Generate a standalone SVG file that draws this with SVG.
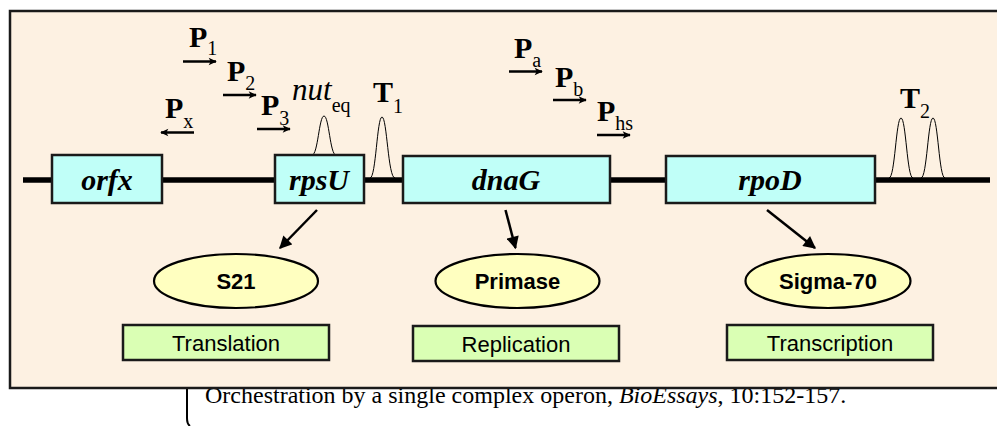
<svg xmlns="http://www.w3.org/2000/svg" width="997" height="426" viewBox="0 0 997 426">
<defs>
<marker id="ah" viewBox="0 0 10 10" refX="9" refY="5" markerWidth="5.5" markerHeight="5" orient="auto" markerUnits="strokeWidth">
<path d="M0,0 L10,5 L0,10 z" fill="#000"/>
</marker>
<marker id="ph" viewBox="0 0 10 10" refX="9" refY="5" markerWidth="5" markerHeight="3.4" orient="auto" markerUnits="strokeWidth">
<path d="M0,0.5 L10,5 L0,9.5 L2.5,5 z" fill="#000"/>
</marker>
<style>
.gene{fill:#C0FFF8;stroke:#1a1a1a;stroke-width:2.5}
.gl{font-family:"Liberation Serif",serif;font-weight:bold;font-style:italic;font-size:30px;text-anchor:middle;fill:#000}
.prot{fill:#FFFFC0;stroke:#000;stroke-width:2.2}
.pl{font-family:"Liberation Sans",Arial,sans-serif;font-weight:bold;font-size:22px;text-anchor:middle;fill:#000}
.fn{fill:#DAFFB4;stroke:#1a1a1a;stroke-width:2.5}
.fl{font-family:"Liberation Sans",Arial,sans-serif;font-size:22px;text-anchor:middle;fill:#000}
.P{font-family:"Liberation Serif",serif;font-weight:bold;font-size:30px;fill:#000}
.sub{font-family:"Liberation Serif",serif;font-weight:normal;font-style:normal;font-size:20px}
.pa{stroke:#000;stroke-width:2.4;fill:none;marker-end:url(#ph)}
.peak{fill:none;stroke:#000;stroke-width:1}
.conn{stroke:#000;stroke-width:2.5;fill:none;marker-end:url(#ah)}
</style>
</defs>
<text x="205" y="403" font-family="Liberation Serif,serif" font-size="24" fill="#000">Orchestration by a single complex operon, <tspan font-style="italic">BioEssays</tspan>, 10:152-157.</text>
<path d="M187,389 L187,418 Q187,424 190,426" fill="none" stroke="#000" stroke-width="2"/>
<rect x="10" y="11" width="1000" height="377" fill="#FDF1E2" stroke="#1a1a1a" stroke-width="2.5"/>
<g id="dna">
<line x1="23" y1="180" x2="990" y2="180" stroke="#000" stroke-width="5.5"/>
<path class="peak" d="M312,155 C318,155 319,116 324,116 C329,116 330,155 336,155"/>
<path class="peak" d="M370,178 C376,178 377,117 382,117 C387,117 388,178 395,178"/>
<path class="peak" d="M889,178 C895,178 896,118 901,118 C906,118 907,178 913,178"/>
<path class="peak" d="M921,178 C927,178 928,118 933,118 C938,118 939,178 945,178"/>
</g>
<g id="orfx"><rect class="gene" x="52" y="155" width="110" height="48"/><text class="gl" x="107" y="190">orfx</text></g>
<g id="rpsU"><rect class="gene" x="275" y="155" width="89" height="48"/><text class="gl" x="319" y="190">rpsU</text></g>
<g id="dnaG"><rect class="gene" x="403" y="156" width="207" height="47"/><text class="gl" x="506" y="190">dnaG</text></g>
<g id="rpoD"><rect class="gene" x="666" y="156" width="209" height="47"/><text class="gl" x="770" y="190">rpoD</text></g>
<g id="labels">
<text class="P" x="189" y="47">P<tspan class="sub" dy="8">1</tspan></text>
<text class="P" x="227" y="81">P<tspan class="sub" dy="8.5">2</tspan></text>
<text class="P" x="261" y="115">P<tspan class="sub" dy="9.5">3</tspan></text>
<text class="P" x="165" y="118">P<tspan class="sub" dy="9.5">x</tspan></text>
<text x="292" y="100" font-family="Liberation Serif,serif" font-style="italic" font-size="31" fill="#000">nut<tspan class="sub" dy="12" font-size="20">eq</tspan></text>
<text class="P" x="373" y="102">T<tspan class="sub" dy="10.5">1</tspan></text>
<text class="P" x="514" y="58">P<tspan class="sub" dy="8.5">a</tspan></text>
<text class="P" x="555" y="87">P<tspan class="sub" dy="9">b</tspan></text>
<text class="P" x="597" y="121">P<tspan class="sub" dy="9">hs</tspan></text>
<text class="P" x="900" y="108">T<tspan class="sub" dy="10">2</tspan></text>
<path class="pa" d="M183,61.5 L216,61.5"/>
<path class="pa" d="M223,95 L256,95"/>
<path class="pa" d="M257,129 L290,129"/>
<path class="pa" d="M194,132.5 L161,132.5"/>
<path class="pa" d="M509,71.5 L542,71.5"/>
<path class="pa" d="M553,100 L586,100"/>
<path class="pa" d="M597,135 L630,135"/>
</g>
<g id="S21"><ellipse class="prot" cx="236" cy="281" rx="82" ry="27"/><text class="pl" x="236" y="289">S21</text></g>
<g id="Primase"><ellipse class="prot" cx="517.5" cy="281" rx="82" ry="27"/><text class="pl" x="517.5" y="289">Primase</text></g>
<g id="Sigma70"><ellipse class="prot" cx="828" cy="281" rx="82.5" ry="27"/><text class="pl" x="828" y="289">Sigma-70</text></g>
<g id="Translation"><rect class="fn" x="123" y="325" width="206" height="35"/><text class="fl" x="226" y="351">Translation</text></g>
<g id="Replication"><rect class="fn" x="413" y="326" width="206" height="35"/><text class="fl" x="516" y="352">Replication</text></g>
<g id="Transcription"><rect class="fn" x="727" y="325" width="206" height="35"/><text class="fl" x="830" y="351">Transcription</text></g>
<g id="connectors">
<line class="conn" x1="317" y1="210" x2="280" y2="248"/>
<line class="conn" x1="505.5" y1="210" x2="515.5" y2="248"/>
<line class="conn" x1="767" y1="210" x2="815" y2="248"/>
</g>
</svg>
